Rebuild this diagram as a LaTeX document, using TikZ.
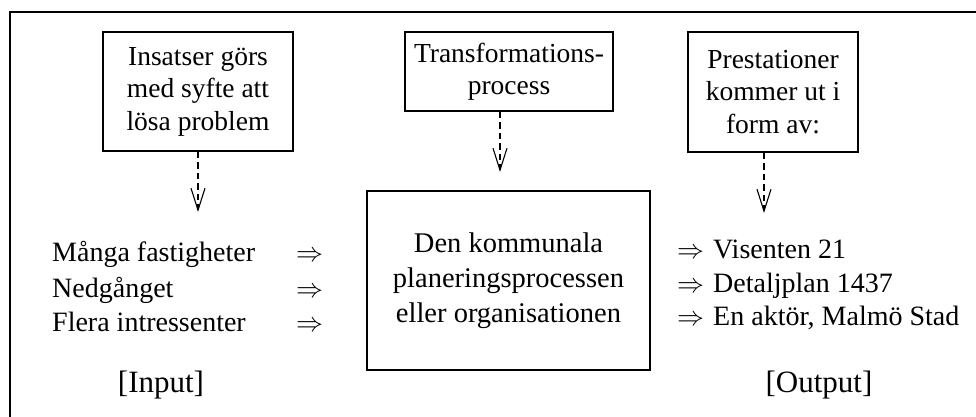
\documentclass[tikz,border=0pt]{standalone}
\usepackage{fontspec}
\usepackage{graphicx}
\setmainfont{Liberation Serif}
\usetikzlibrary{arrows.meta}
\newcommand{\dblarr}{\resizebox{27pt}{!}{$\Rightarrow$}}
\begin{document}
\begin{tikzpicture}[x=1pt,y=-1pt,
  box/.style={draw, line width=1.3pt, inner sep=0pt, align=center,
    font=\fontsize{27.5}{32.5}\selectfont},
  bigbox/.style={draw, line width=1.3pt, inner sep=0pt, align=center,
    font=\fontsize{28.5}{35}\selectfont},
  listtxt/.style={anchor=base west, inner sep=0pt, font=\fontsize{28}{34}\selectfont},
  label/.style={anchor=base, inner sep=0pt, font=\fontsize{31}{36}\selectfont},
  dasharrow/.style={line width=1.1pt, dash pattern=on 6.5pt off 4pt,
    -{Straight Barb[length=22pt,width=14pt,line width=1.1pt]}}]
\useasboundingbox (0,0) rectangle (976,416);
% outer frame (only top and left edges visible)
\draw[line width=2pt] (10,430) -- (10,12) -- (990,12);
% top boxes
\node[box, minimum width=190pt, minimum height=119pt] (b1) at (198,91.5)
  {Insatser görs\\med syfte att\\lösa problem};
\node[box, minimum width=208pt, minimum height=79pt] (b2) at (509,71.5)
  {Transformations-\\process};
\node[box, minimum width=170pt, minimum height=120pt] (b3) at (773,92)
  {Prestationer\\kommer ut i\\form av:};
% central box
\node[bigbox, minimum width=283pt, minimum height=179pt] (c) at (508.5,280.5)
  {Den kommunala\\planeringsprocessen\\eller organisationen};
% dashed arrows
\coordinate (e1) at (198,212);
\coordinate (e2) at (500,172);
\coordinate (e3) at (764,213);
\draw[dasharrow] (b1.south) -- (e1);
\draw[dasharrow] ([xshift=-9pt]b2.south) -- (e2);
\draw[dasharrow] ([xshift=-9pt]b3.south) -- (e3);
% input list
\node[listtxt] (i1) at (52,261) {Många fastigheter};
\node[listtxt] (i2) at (52,297) {Nedgånget};
\node[listtxt] (i3) at (52,331) {Flera intressenter};
\node[listtxt] (ia1) at (296,261) {\dblarr};
\node[listtxt] (ia2) at (296,297) {\dblarr};
\node[listtxt] (ia3) at (296,331) {\dblarr};
% output list
\node[listtxt] (oa1) at (677,258) {\dblarr};
\node[listtxt] (oa2) at (677,292) {\dblarr};
\node[listtxt] (oa3) at (677,325) {\dblarr};
\node[listtxt] (o1) at (713,258) {Visenten 21};
\node[listtxt] (o2) at (713,292) {Detaljplan 1437};
\node[listtxt] (o3) at (713,325) {En aktör, Malmö Stad};
% labels
\node[label] (lin) at (161,392) {[Input]};
\node[label] (lout) at (819,392) {[Output]};
\end{tikzpicture}
\end{document}
